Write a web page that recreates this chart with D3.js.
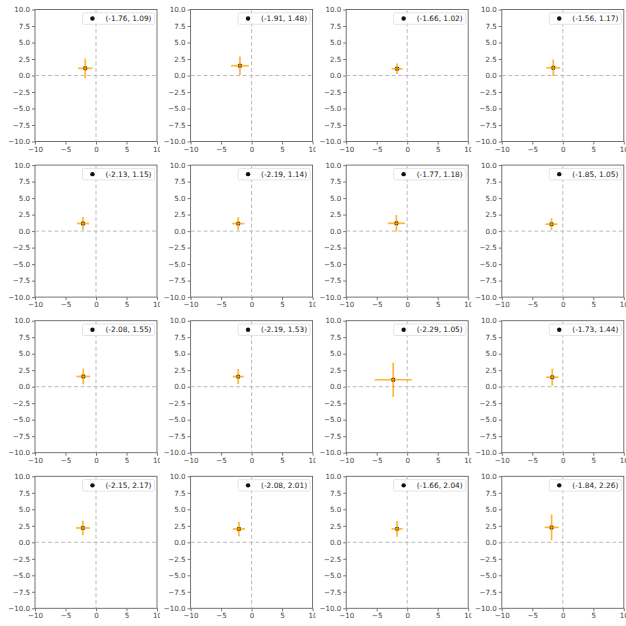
<!DOCTYPE html>
<html>
<head>
<meta charset="utf-8">
<script src="https://cdn.jsdelivr.net/npm/d3@7"></script>
<style>
  body { margin: 0; background: #fff; }
  svg text { font-family: "DejaVu Sans", sans-serif; }
</style>
</head>
<body>
<div id="chart"></div>
<script>
// panel values, row by row
const xs = [-1.76, -1.91, -1.66, -1.56, -2.13, -2.19, -1.77, -1.85, -2.08, -2.19, -2.29, -1.73, -2.15, -2.08, -1.66, -1.84];
const ys = [1.09, 1.48, 1.02, 1.17, 1.15, 1.14, 1.18, 1.05, 1.55, 1.53, 1.05, 1.44, 2.17, 2.01, 2.04, 2.26];
const xErr = [1.17, 1.45, 0.9, 1.15, 1.0, 1.0, 1.4, 1.0, 1.15, 0.9, 3.05, 1.0, 1.15, 1.0, 0.9, 1.15];
const yErr = [1.5, 1.4, 0.8, 1.25, 1.0, 1.0, 1.25, 0.9, 1.2, 1.15, 2.6, 1.3, 1.1, 1.1, 1.2, 1.95];
const xTicks = [-10, -5, 0, 5, 10];
const yTicks = [-10, -7.5, -5, -2.5, 0, 2.5, 5, 7.5, 10];

const width = 626;
const height = 626;
const step = 155.6;
const margin = { top: 9.5, left: 35 };
const graphWidth = 122;
const graphHeight = 132;

const x = d3.scaleLinear().domain([-10, 10]).range([0, graphWidth]);
const y = d3.scaleLinear().domain([-10, 10]).range([graphHeight, 0]);

const svg = d3
  .select("#chart")
  .append("svg")
  .attr("width", width)
  .attr("height", height);

xs.forEach((xv, i) => {
  const col = i % 4;
  const row = Math.floor(i / 4);

  // each panel is cut at its own cell, like the reference
  svg
    .append("clipPath")
    .attr("id", `clip${i}`)
    .append("rect")
    .attr("x", -margin.left)
    .attr("y", -margin.top)
    .attr("width", margin.left + graphWidth + 3)
    .attr("height", step + 2);

  const g = svg
    .append("g")
    .attr("transform", `translate(${col * step + margin.left}, ${row * step + margin.top})`)
    .attr("clip-path", `url(#clip${i})`);

  // Eixos
  const ax = g
    .append("g")
    .attr("transform", `translate(0,${graphHeight})`)
    .call(d3.axisBottom(x).tickValues(xTicks).tickSize(3).tickPadding(2));
  const ay = g
    .append("g")
    .call(d3.axisLeft(y).tickValues(yTicks).tickFormat(d3.format(".1f")).tickSize(3).tickPadding(2));

  [ax, ay].forEach((a) => {
    a.select(".domain").remove();
    a.selectAll("line").attr("stroke", "#555").attr("stroke-width", 0.8);
    a.selectAll("text").attr("fill", "#444").style("font-size", "7.1px");
  });

  // spines
  g.append("rect")
    .attr("width", graphWidth)
    .attr("height", graphHeight)
    .attr("fill", "none")
    .attr("stroke", "#666")
    .attr("stroke-width", 0.9);

  // dashed zero lines
  g.append("line")
    .attr("x1", x(0)).attr("x2", x(0))
    .attr("y1", 0).attr("y2", graphHeight)
    .attr("stroke", "#bbb").attr("stroke-width", 1).attr("stroke-dasharray", "4,2.5");
  g.append("line")
    .attr("x1", 0).attr("x2", graphWidth)
    .attr("y1", y(0)).attr("y2", y(0))
    .attr("stroke", "#bbb").attr("stroke-width", 1).attr("stroke-dasharray", "4,2.5");

  // point
  g.append("circle")
    .attr("cx", x(xv))
    .attr("cy", y(ys[i]))
    .attr("r", 2.2)
    .attr("fill", "#111");

  // error bars
  g.append("line")
    .attr("x1", x(xv - xErr[i])).attr("x2", x(xv + xErr[i]))
    .attr("y1", y(ys[i])).attr("y2", y(ys[i]))
    .attr("stroke", "orange").attr("stroke-width", 1.7).attr("opacity", 0.8);
  g.append("line")
    .attr("x1", x(xv)).attr("x2", x(xv))
    .attr("y1", y(ys[i] - yErr[i])).attr("y2", y(ys[i] + yErr[i]))
    .attr("stroke", "orange").attr("stroke-width", 1.7).attr("opacity", 0.8);

  // legenda
  const leg = g.append("g");
  const box = leg.append("rect")
    .attr("fill", "white")
    .attr("fill-opacity", 0.85)
    .attr("stroke", "#ddd")
    .attr("stroke-width", 0.8)
    .attr("rx", 1.5);
  const label = leg.append("text")
    .style("font-size", "7.4px")
    .attr("fill", "#222")
    .text(`(${xv.toFixed(2)}, ${ys[i].toFixed(2)})`);
  const tw = label.node().getComputedTextLength();
  const bw = tw + 26;
  const bx = graphWidth - 2.5 - bw;
  const by = 3.3;
  box.attr("x", bx).attr("y", by).attr("width", bw).attr("height", 11.5);
  leg.append("circle")
    .attr("cx", bx + 10)
    .attr("cy", by + 5.75)
    .attr("r", 2.2)
    .attr("fill", "#111");
  label.attr("x", bx + 23).attr("y", by + 8.4);
});
</script>
</body>
</html>
